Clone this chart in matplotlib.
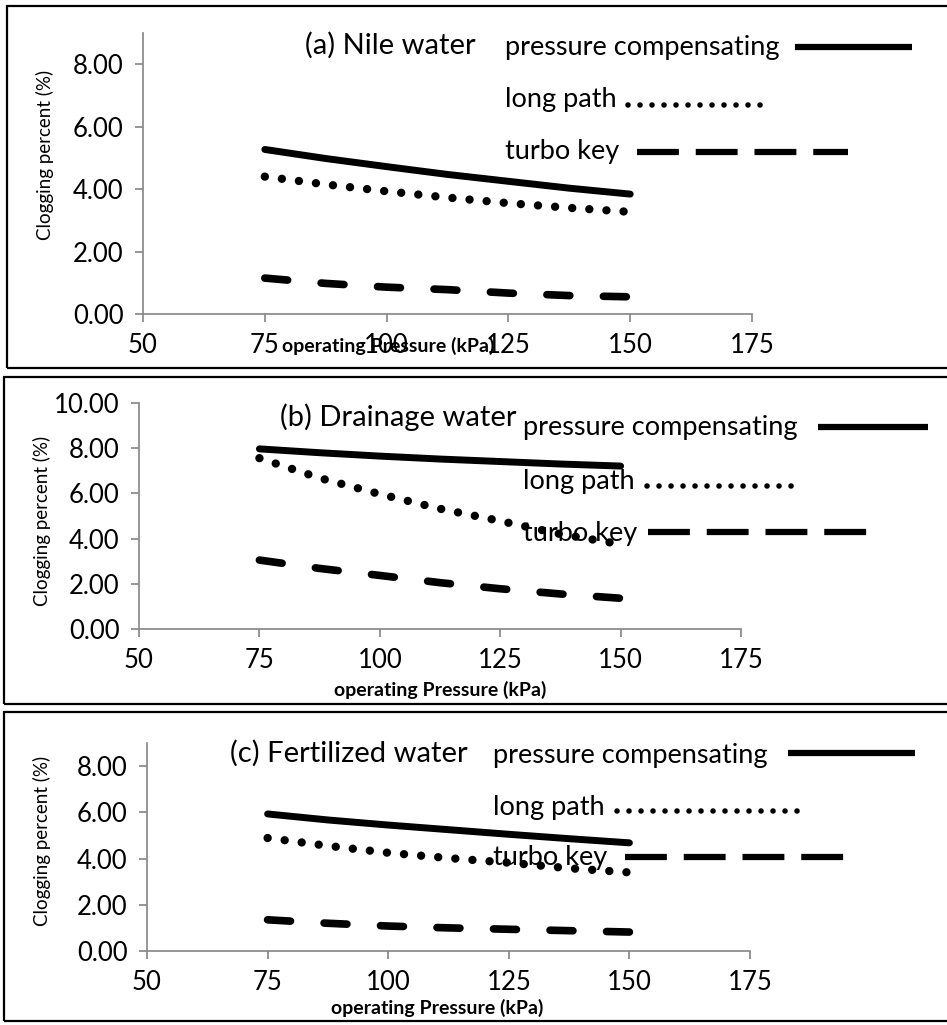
import matplotlib
matplotlib.use("Agg")
import matplotlib.pyplot as plt
from matplotlib.lines import Line2D
from matplotlib.patches import Rectangle

plt.rcParams['font.family'] = ['Lato', 'DejaVu Sans']

W, H = 947, 1025

# operating pressure (kPa)
pressure = [75, 87.5, 100, 112.5, 125, 137.5, 150]
series_names = ["pressure compensating", "long path", "turbo key"]
xticks = [50, 75, 100, 125, 150, 175]

# clogging percent (%)
nile_pc = [5.27, 4.98, 4.72, 4.47, 4.25, 4.03, 3.84]
nile_lp = [4.40, 4.15, 3.93, 3.73, 3.55, 3.40, 3.27]
nile_tk = [1.15, 0.98, 0.86, 0.78, 0.67, 0.59, 0.55]

drain_pc = [7.97, 7.80, 7.65, 7.52, 7.41, 7.30, 7.21]
drain_lp = [7.56, 6.68, 5.97, 5.32, 4.78, 4.20, 3.75]
drain_tk = [3.05, 2.68, 2.37, 2.05, 1.78, 1.55, 1.36]

fert_pc = [5.93, 5.67, 5.45, 5.25, 5.05, 4.86, 4.68]
fert_lp = [4.89, 4.55, 4.25, 4.02, 3.82, 3.58, 3.40]
fert_tk = [1.35, 1.20, 1.08, 1.00, 0.94, 0.88, 0.82]

titles = ["(a) Nile water", "(b) Drainage water", "(c) Fertilized water"]


def fx(x):
    return x / W


def fy(y):
    return 1 - y / H


fig = plt.figure(figsize=(9.47, 10.25), dpi=100)

# layout in pixels: axes (left, top, right, bottom), ymax, yticks, frame (left, top, bottom)
panels = [
    dict(ax=(143, 33, 752, 314), ymax=9, yticks=[0, 2, 4, 6, 8], frame=(7, 6, 368),
         data=(nile_pc, nile_lp, nile_tk), title=(305, 45),
         leg_text=505, leg_y=(47, 100, 152), leg_lines=((795, 912), (628, 770), (637, 848)),
         leg_line_y=(47, 105, 152), ylab=(45, 155), xlab=(388, 346)),
    dict(ax=(139, 403, 741, 629), ymax=10, yticks=[0, 2, 4, 6, 8, 10], frame=(4, 377, 704),
         data=(drain_pc, drain_lp, drain_tk), title=(280, 417),
         leg_text=523, leg_y=(428, 482, 533), leg_lines=((818, 928), (647, 798), (648, 882)),
         leg_line_y=(427, 486, 532), ylab=(42, 521), xlab=(440, 690)),
    dict(ax=(147, 743, 750, 951), ymax=9, yticks=[0, 2, 4, 6, 8], frame=(4, 712, 1021),
         data=(fert_pc, fert_lp, fert_tk), title=(230, 753),
         leg_text=493, leg_y=(755, 807, 858), leg_lines=((788, 915), (617, 802), (625, 858)),
         leg_line_y=(753, 811, 857), ylab=(42, 841), xlab=(437, 1008)),
]

grey = "#898989"
data_styles = [
    dict(linestyle="-", lw=5, solid_capstyle="round"),
    dict(linestyle=(0, (0.01, 2.05)), lw=6, dash_capstyle="round"),
    dict(linestyle=(0, (3.0, 4.4)), lw=5.5, dash_capstyle="round"),
]
leg_styles = [
    dict(linestyle="-", lw=4.5, solid_capstyle="butt"),
    dict(linestyle=(0, (0.01, 2.15)), lw=4, dash_capstyle="round"),
    dict(linestyle=(0, (6.7, 2.7)), lw=4.5, dash_capstyle="butt"),
]

for i, p in enumerate(panels):
    l, t, r, b = p["ax"]
    ax = fig.add_axes([fx(l), fy(b), (r - l) / W, (b - t) / H])
    for vals, st in zip(p["data"], data_styles):
        ax.plot(pressure, vals, color="black", **st)
    ax.set_xlim(50, 175)
    ax.set_ylim(0, p["ymax"])
    ax.set_xticks(xticks)
    ax.set_yticks(p["yticks"])
    ax.set_yticklabels(["%.2f" % v for v in p["yticks"]])
    for s in ["top", "right"]:
        ax.spines[s].set_visible(False)
    for s in ["left", "bottom"]:
        ax.spines[s].set_color(grey)
        ax.spines[s].set_linewidth(1.25)
    ax.tick_params(axis="both", colors=grey, labelcolor="black", labelsize=18.5,
                   length=6, width=1.25, pad=8)
    ax.patch.set_visible(False)

    # text
    fig.text(fx(p["title"][0]), fy(p["title"][1]), titles[i], fontsize=21,
             ha="left", va="center")
    fig.text(fx(p["ylab"][0]), fy(p["ylab"][1]), "Clogging percent (%)", fontsize=13.5,
             rotation=90, ha="center", va="center")
    fig.text(fx(p["xlab"][0]), fy(p["xlab"][1]), "operating Pressure (kPa)", fontsize=14,
             fontweight="bold", ha="center", va="center")

    # legend drawn by hand
    for name, ty, (x0, x1), ly, st in zip(series_names, p["leg_y"], p["leg_lines"],
                                          p["leg_line_y"], leg_styles):
        fig.text(fx(p["leg_text"]), fy(ty), name, fontsize=19.5, ha="left", va="center")
        fig.add_artist(Line2D([fx(x0), fx(x1)], [fy(ly), fy(ly)], color="black",
                              transform=fig.transFigure, **st))

    # frame round each panel
    fl, ft, fb = p["frame"]
    fig.add_artist(Rectangle((fx(fl), fy(fb)), 2, (fb - ft) / H, fill=False,
                             edgecolor="black", lw=1.6, transform=fig.transFigure,
                             clip_on=False))

fig.savefig("out.png", dpi=100)
